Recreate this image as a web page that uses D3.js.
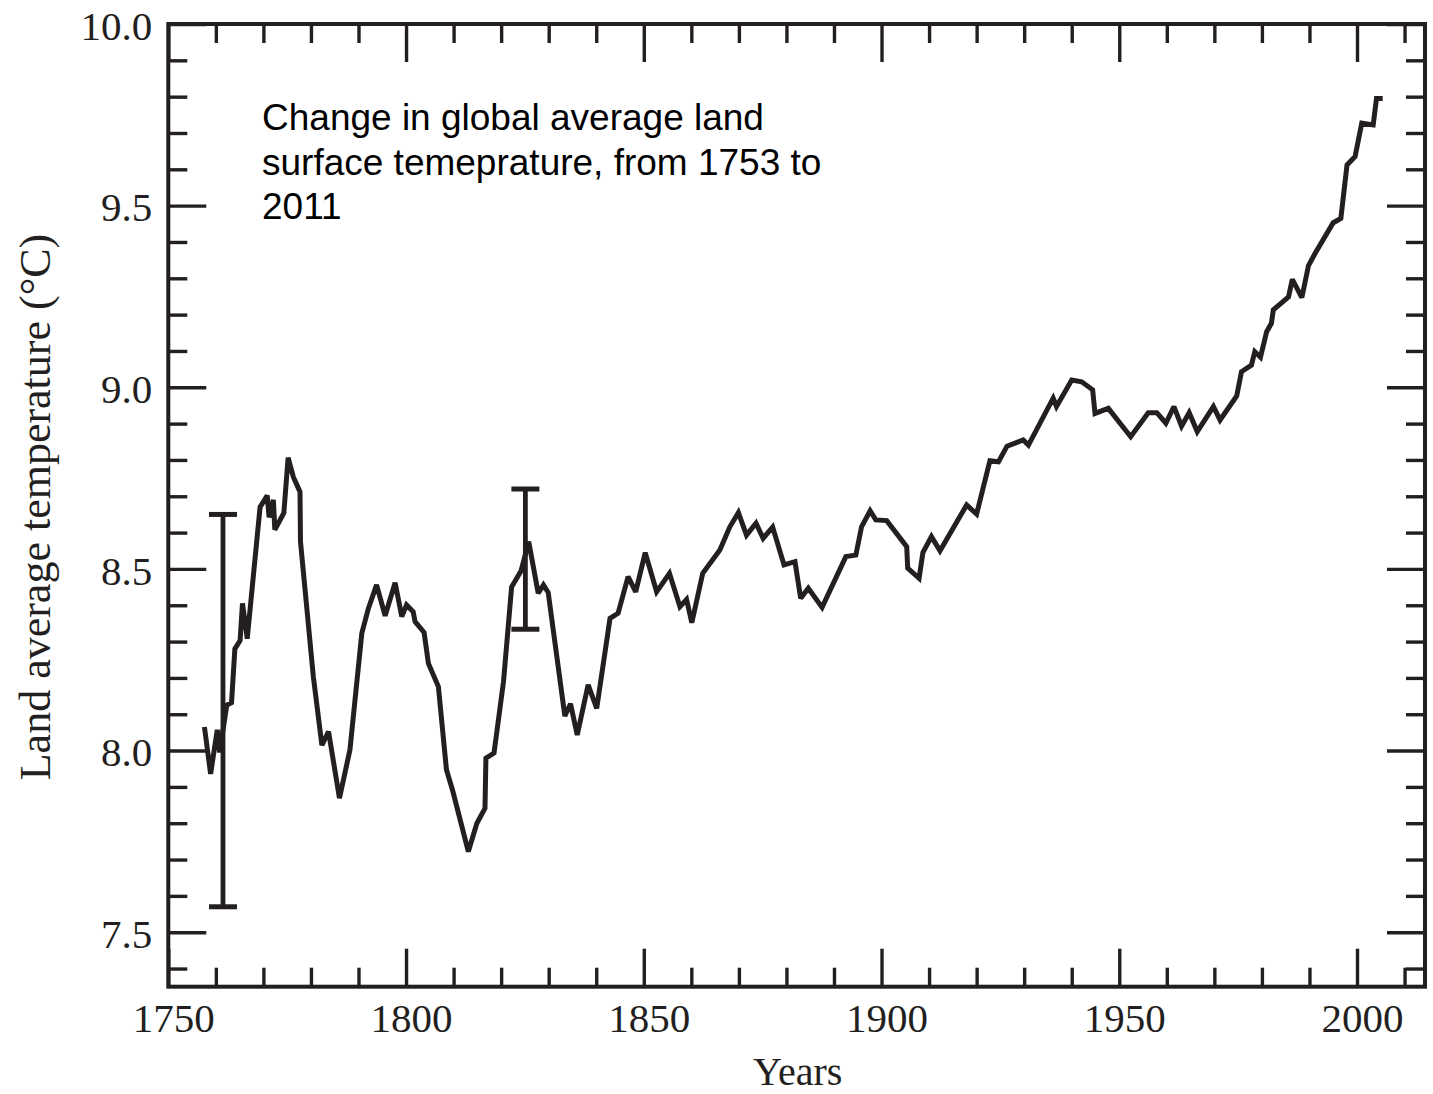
<!DOCTYPE html>
<html>
<head>
<meta charset="utf-8">
<script src="https://cdn.jsdelivr.net/npm/d3@7"></script>
<style>
  html, body { margin: 0; padding: 0; background: #ffffff; }
  svg { display: block; }
</style>
</head>
<body>
<svg id="chart" width="1433" height="1094"></svg>
<script>
// Smoothed global land temperature record (year, °C)
const years = [
  1757.6, 1758.9, 1760.3, 1760.8, 1762.3, 1763.3, 1764.0, 1765.1, 1765.6, 1766.6,
  1769.3, 1770.8, 1771.2, 1772.1, 1772.4, 1774.3, 1775.2, 1776.3, 1777.7, 1777.8,
  1780.5, 1782.3, 1783.7, 1786.0, 1788.2, 1790.7, 1792.1, 1793.8, 1795.6, 1797.7,
  1799.1, 1800.1, 1801.5, 1801.9, 1803.8, 1804.7, 1806.8, 1808.5, 1809.8, 1813.1,
  1814.9, 1816.6, 1816.8, 1818.5, 1820.5, 1822.2, 1824.2, 1825.8, 1827.8, 1828.9,
  1829.9, 1833.4, 1834.6, 1836.0, 1838.3, 1840.1, 1842.9, 1844.6, 1846.7, 1848.3,
  1850.3, 1852.7, 1855.4, 1857.6, 1859.0, 1860.1, 1862.4, 1866.0, 1868.1, 1869.9,
  1871.6, 1873.6, 1875.1, 1877.1, 1879.5, 1881.8, 1883.0, 1884.6, 1887.5, 1892.5,
  1894.6, 1895.8, 1897.6, 1898.8, 1901.1, 1905.3, 1905.5, 1907.9, 1908.7, 1910.5,
  1912.3, 1917.9, 1920.0, 1922.8, 1924.6, 1926.4, 1929.8, 1930.9, 1936.1, 1936.8,
  1940.0, 1942.1, 1944.4, 1944.9, 1947.7, 1952.4, 1956.1, 1957.9, 1959.8, 1961.5,
  1963.1, 1964.7, 1966.4, 1969.8, 1971.2, 1974.7, 1975.7, 1977.8, 1978.5, 1979.7,
  1981.0, 1982.0, 1982.4, 1985.6, 1986.4, 1988.4, 1989.8, 1991.2, 1995.0, 1996.6,
  1997.9, 1999.6, 2001.0, 2003.4, 2004.1, 2005.4
];
const temps = [
  8.065, 7.936, 8.057, 7.995, 8.125, 8.132, 8.280, 8.303, 8.405, 8.308,
  8.670, 8.702, 8.642, 8.690, 8.608, 8.654, 8.806, 8.753, 8.712, 8.575,
  8.204, 8.015, 8.052, 7.869, 8.002, 8.323, 8.392, 8.456, 8.371, 8.462,
  8.369, 8.401, 8.382, 8.355, 8.325, 8.240, 8.176, 7.947, 7.890, 7.722,
  7.800, 7.841, 7.979, 7.993, 8.190, 8.450, 8.495, 8.575, 8.433, 8.456,
  8.435, 8.095, 8.129, 8.043, 8.181, 8.116, 8.364, 8.378, 8.479, 8.437,
  8.545, 8.437, 8.488, 8.396, 8.416, 8.352, 8.488, 8.552, 8.616, 8.655,
  8.593, 8.626, 8.584, 8.615, 8.511, 8.520, 8.419, 8.447, 8.394, 8.534,
  8.538, 8.616, 8.660, 8.635, 8.633, 8.561, 8.502, 8.474, 8.545, 8.589,
  8.550, 8.676, 8.651, 8.798, 8.795, 8.838, 8.855, 8.841, 8.970, 8.947,
  9.020, 9.015, 8.993, 8.928, 8.942, 8.864, 8.930, 8.930, 8.901, 8.947,
  8.893, 8.930, 8.878, 8.947, 8.910, 8.976, 9.043, 9.061, 9.098, 9.083,
  9.153, 9.176, 9.213, 9.249, 9.297, 9.247, 9.335, 9.369, 9.453, 9.465,
  9.612, 9.635, 9.727, 9.722, 9.795, 9.795
];

// Uncertainty ranges shown as capped bars
const errYears = [1761.5, 1825.1];
const errLow   = [7.57, 8.334];
const errHigh  = [8.65, 8.72];

// Axis ticks
const xMajorTicks = [1750, 1800, 1850, 1900, 1950, 2000];
const xMinorTicks = [1760, 1770, 1780, 1790, 1810, 1820, 1830, 1840, 1860, 1870, 1880, 1890,
                     1910, 1920, 1930, 1940, 1960, 1970, 1980, 1990, 2010];
const yMajorTicks = [7.5, 8.0, 8.5, 9.0, 9.5, 10.0];
const yMinorTicks = [7.4, 7.6, 7.7, 7.8, 7.9, 8.1, 8.2, 8.3, 8.4, 8.6, 8.7, 8.8, 8.9,
                     9.1, 9.2, 9.3, 9.4, 9.6, 9.7, 9.8, 9.9];

const noteLines = [
  "Change in global average land",
  "surface temeprature, from 1753 to",
  "2011"
];
const xTitle = "Years";
const yTitle = "Land average temperature (°C)";

// ---- layout ----
const ink = "#231f20";
const serif = "'Liberation Serif', 'DejaVu Serif', serif";
const sans = "'Liberation Sans', Arial, sans-serif";
const plotLeft = 168.3, plotRight = 1425, plotTop = 24, plotBottom = 986.7;

const svg = d3.select("#chart");

const x = d3.scaleLinear().domain([1750, 2014.3]).range([plotLeft, plotRight]);
const y = d3.scaleLinear().domain([7.35, 10.0]).range([plotBottom, plotTop]);

function tidy(sel) {
  sel.select(".domain").remove();
  sel.selectAll(".tick line").attr("stroke", ink).attr("stroke-width", 3.4);
}

// bottom ticks (inward) with labels
svg.append("g").attr("transform", `translate(0,${plotBottom})`)
  .call(d3.axisBottom(x).tickValues(xMinorTicks).tickSize(-19).tickFormat(""))
  .call(tidy);
svg.append("g").attr("transform", `translate(0,${plotBottom})`)
  .call(d3.axisBottom(x).tickValues(xMajorTicks).tickSize(-38).tickPadding(16)
        .tickFormat(d3.format("d")))
  .call(tidy)
  .call(g => g.selectAll("text")
    .attr("fill", ink).attr("font-family", serif).attr("font-size", 41).attr("dx", 5));

// top ticks (inward)
svg.append("g").attr("transform", `translate(0,${plotTop})`)
  .call(d3.axisTop(x).tickValues(xMinorTicks).tickSize(-19).tickFormat(""))
  .call(tidy);
svg.append("g").attr("transform", `translate(0,${plotTop})`)
  .call(d3.axisTop(x).tickValues(xMajorTicks).tickSize(-38).tickFormat(""))
  .call(tidy);

// left ticks (inward) with labels
svg.append("g").attr("transform", `translate(${plotLeft},0)`)
  .call(d3.axisLeft(y).tickValues(yMinorTicks).tickSize(-19).tickFormat(""))
  .call(tidy);
svg.append("g").attr("transform", `translate(${plotLeft},0)`)
  .call(d3.axisLeft(y).tickValues(yMajorTicks).tickSize(-38).tickPadding(16)
        .tickFormat(d3.format(".1f")))
  .call(tidy)
  .call(g => g.selectAll("text")
    .attr("fill", ink).attr("font-family", serif).attr("font-size", 41).attr("dy", "0.37em"));

// right ticks (inward)
svg.append("g").attr("transform", `translate(${plotRight},0)`)
  .call(d3.axisRight(y).tickValues(yMinorTicks).tickSize(-19).tickFormat(""))
  .call(tidy);
svg.append("g").attr("transform", `translate(${plotRight},0)`)
  .call(d3.axisRight(y).tickValues(yMajorTicks).tickSize(-38).tickFormat(""))
  .call(tidy);

// plot frame
svg.append("rect")
  .attr("x", plotLeft).attr("y", plotTop)
  .attr("width", plotRight - plotLeft).attr("height", plotBottom - plotTop)
  .attr("fill", "none").attr("stroke", ink).attr("stroke-width", 4);

// temperature curve
const series = years.map((yr, i) => [yr, temps[i]]);
svg.append("path")
  .datum(series)
  .attr("fill", "none")
  .attr("stroke", ink)
  .attr("stroke-width", 5)
  .attr("stroke-linejoin", "miter")
  .attr("stroke-miterlimit", 2.5)
  .attr("d", d3.line().x(d => x(d[0])).y(d => y(d[1])));

// uncertainty bars
const bars = errYears.map((yr, i) => ({ yr, lo: errLow[i], hi: errHigh[i] }));
const eb = svg.append("g").attr("stroke", ink);
eb.selectAll("line.stem").data(bars).join("line")
  .attr("class", "stem")
  .attr("x1", d => x(d.yr)).attr("x2", d => x(d.yr))
  .attr("y1", d => y(d.hi)).attr("y2", d => y(d.lo))
  .attr("stroke-width", 4.8);
eb.selectAll("line.cap").data(bars.flatMap(d => [{ yr: d.yr, v: d.hi }, { yr: d.yr, v: d.lo }]))
  .join("line")
  .attr("class", "cap")
  .attr("x1", d => x(d.yr) - 14).attr("x2", d => x(d.yr) + 14)
  .attr("y1", d => y(d.v)).attr("y2", d => y(d.v))
  .attr("stroke-width", 5);

// axis titles
svg.append("text")
  .attr("x", (plotLeft + plotRight) / 2 + 1).attr("y", 1085)
  .attr("text-anchor", "middle")
  .attr("font-family", serif).attr("font-size", 40).attr("fill", ink)
  .text(xTitle);

svg.append("text")
  .attr("transform", "translate(50,507) rotate(-90)")
  .attr("text-anchor", "middle")
  .attr("font-family", serif).attr("font-size", 44).attr("fill", ink)
  .text(yTitle);

// annotation
svg.append("g").selectAll("text").data(noteLines).join("text")
  .attr("x", 262)
  .attr("y", (d, i) => 130 + i * 44.5)
  .attr("font-family", sans).attr("font-size", 37).attr("fill", "#000")
  .text(d => d);
</script>
</body>
</html>
